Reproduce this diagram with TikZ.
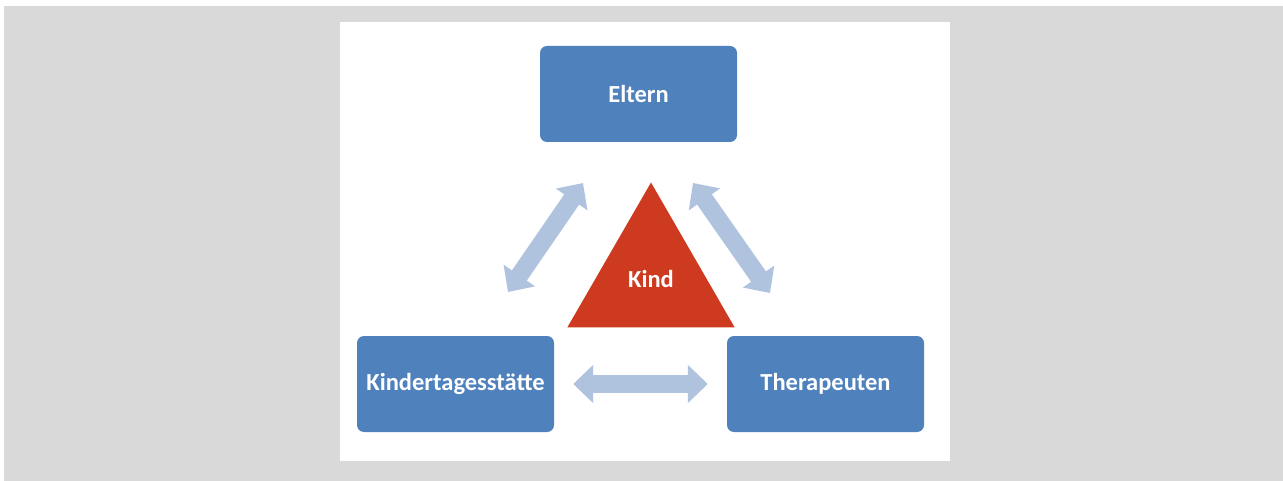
\documentclass[tikz,border=0pt]{standalone}
\usepackage{fontspec}
\setmainfont{Carlito}
\usetikzlibrary{arrows.meta,positioning,shapes.geometric}
\definecolor{paper}{HTML}{D9D9D9}
\definecolor{boxblue}{HTML}{4F81BD}
\definecolor{kindred}{HTML}{CD3A1F}
\definecolor{linkblue}{HTML}{AFC2DE}
\tikzset{
  rolebox/.style={rectangle, rounded corners=7pt, fill=boxblue, text=white, inner sep=0pt,
                  minimum width=197pt, minimum height=96pt, font=\fontsize{24.5}{29}\selectfont\bfseries},
  kindtri/.style={regular polygon, regular polygon sides=3, fill=kindred, text=white, inner sep=0pt,
                  minimum size=193pt, font=\fontsize{24.5}{29}\selectfont\bfseries},
  link/.style={draw=linkblue, line width=18pt, {Triangle[length=20pt,width=37pt]}-{Triangle[length=20pt,width=37pt]}}
}

\begin{document}
\begin{tikzpicture}[x=1pt, y=-1pt]
  \useasboundingbox (0,0) rectangle (1283,481);
  \fill[paper] (4,6) rectangle (1283,481);
  \fill[white] (340,22) rectangle (950,461);
  \node[rolebox] (eltern) at (638.5,94) {Eltern};
  \node[rolebox] (kita) at (455.5,384) {Kindertagesstätte};
  \node[rolebox] (ther) at (825.5,384) {Therapeuten};
  \node[kindtri] (kind) at (651,279) {Kind};
  % free ends of the two slanted links
  \coordinate (kitaup) at (508,292);
  \coordinate (elternl) at (583,183);
  \coordinate (elternr) at (693,183);
  \coordinate (therup) at (770,293);
  \draw[link] (kitaup) -- (elternl);
  \draw[link] (elternr) -- (therup);
  \draw[link, shorten <=19pt, shorten >=19pt] (kita.east) -- (ther.west);
\end{tikzpicture}
\end{document}
